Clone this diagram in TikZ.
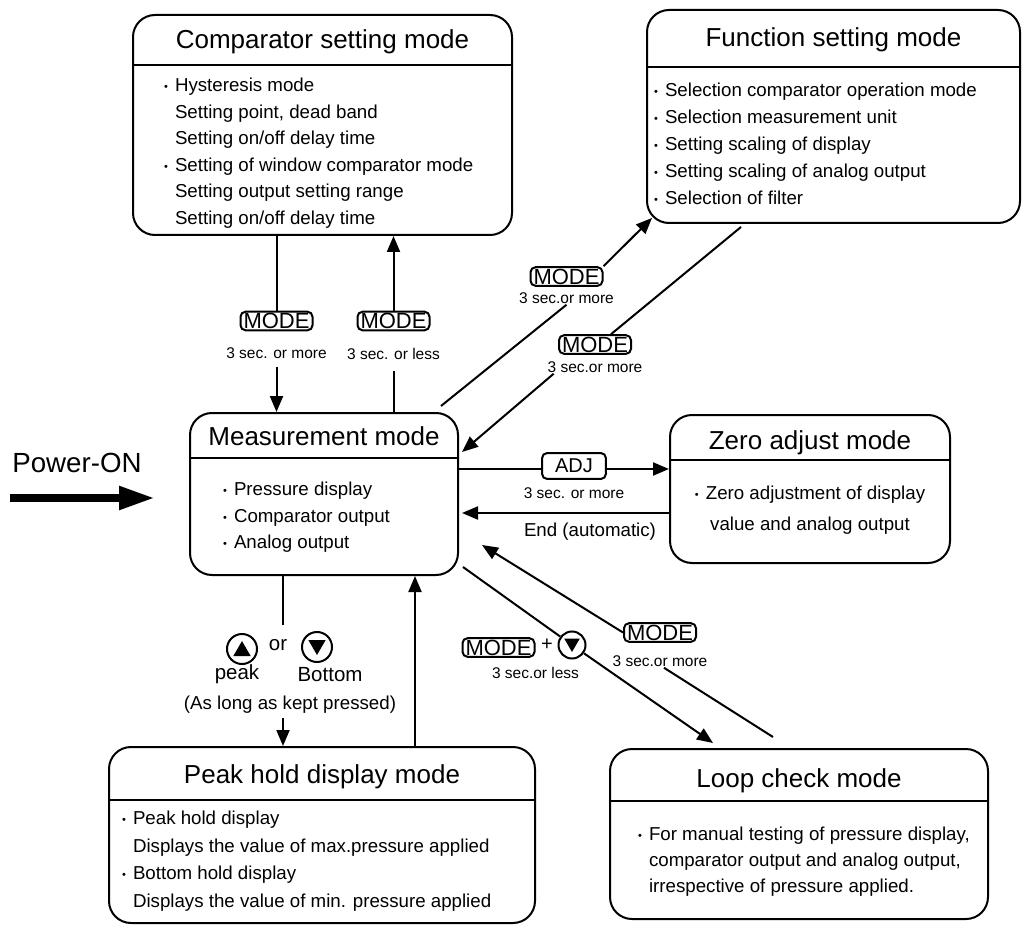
\documentclass[tikz,border=0pt]{standalone}
\usepackage{fontspec}
\setmainfont{Liberation Sans}
\usetikzlibrary{arrows.meta,positioning,calc,shapes.geometric}

\newcommand{\bul}{\makebox[11pt][l]{\raisebox{1pt}{\fontsize{11}{11}\selectfont •}}}
\newcommand{\ind}{\hspace*{11pt}}

\tikzset{
  modebox/.style = {draw, rounded corners=22pt, inner sep=0pt},
  modetitle/.style = {font=\fontsize{26}{30}\selectfont, inner sep=0pt, anchor=base},
  modetext/.style = {font=\fontsize{18.7}{26.6}\selectfont, align=left, inner sep=0pt, anchor=north west},
  sepline/.style = {line width=1.5pt},
  keybox/.style = {draw, rounded corners=5pt, inner xsep=3pt, inner ysep=1.5pt, font=\fontsize{22}{24}\selectfont},
  adjbox/.style = {keybox, inner xsep=13pt, inner ysep=6pt, font=\fontsize{20}{24}\selectfont},
  note/.style = {font=\fontsize{15.5}{18}\selectfont, inner sep=0pt},
  keycirc/.style = {draw, circle, minimum size=28pt, inner sep=0pt},
  tri/.style = {fill, regular polygon, regular polygon sides=3, minimum size=20pt, inner sep=0pt},
  arr/.style = {-{Triangle[length=16pt,width=13pt]}},
}

\begin{document}
\begin{tikzpicture}[x=1pt, y=-1pt, line width=2pt]
\useasboundingbox (0,0) rectangle (1023,925);

% the mode boxes
\node[modebox, minimum width=379pt, minimum height=220pt] (cmp) at (322.5,125) {};
\node[modetitle] (cmp-t) at (322.5,49) {Comparator setting mode};
\draw[sepline] (cmp.west |- 0,65) -- (cmp.east |- 0,65);
\node[modetext] (cmp-b) at (163,77)
  {\bul Hysteresis mode\\ \ind Setting point, dead band\\ \ind Setting on/off delay time\\
   \bul Setting of window comparator mode\\ \ind Setting output setting range\\ \ind Setting on/off delay time};

\node[modebox, minimum width=373pt, minimum height=213pt] (fun) at (833.5,116.5) {};
\node[modetitle] (fun-t) at (833.5,47) {Function setting mode};
\draw[sepline] (fun.west |- 0,67) -- (fun.east |- 0,67);
\node[modetext, font=\fontsize{18.7}{27}\selectfont] (fun-b) at (653,82)
  {\bul Selection comparator operation mode\\ \bul Selection measurement unit\\ \bul Setting scaling of display\\
   \bul Setting scaling of analog output\\ \bul Selection of filter};

\node[modebox, minimum width=268pt, minimum height=162pt] (meas) at (324,494) {};
\node[modetitle] (meas-t) at (324,445) {Measurement mode};
\draw[sepline] (meas.west |- 0,458) -- (meas.east |- 0,458);
\node[modetext, font=\fontsize{18.7}{26.5}\selectfont] (meas-b) at (222,481)
  {\bul Pressure display\\ \bul Comparator output\\ \bul Analog output};

\node[modebox, minimum width=280pt, minimum height=148pt] (zero) at (810,489) {};
\node[modetitle] (zero-t) at (810,449) {Zero adjust mode};
\draw[sepline] (zero.west |- 0,460) -- (zero.east |- 0,460);
\node[modetext, align=center, anchor=north, font=\fontsize{18.7}{31}\selectfont] (zero-b) at (810,485)
  {\bul Zero adjustment of display\\ value and analog output};

\node[modebox, minimum width=426pt, minimum height=176pt] (peak) at (322,835) {};
\node[modetitle] (peak-t) at (322,783) {Peak hold display mode};
\draw[sepline] (peak.west |- 0,800) -- (peak.east |- 0,800);
\node[modetext, font=\fontsize{18.7}{27.7}\selectfont] (peak-b) at (121,810)
  {\bul Peak hold display\\ \ind Displays the value of max.pressure applied\\
   \bul Bottom hold display\\ \ind Displays the value of min. pressure applied};

\node[modebox, minimum width=378pt, minimum height=170pt] (loop) at (799,834) {};
\node[modetitle] (loop-t) at (799,787) {Loop check mode};
\draw[sepline] (loop.west |- 0,801) -- (loop.east |- 0,801);
\node[modetext, font=\fontsize{18.7}{26}\selectfont] (loop-b) at (637,826)
  {\bul For manual testing of pressure display,\\ \ind comparator output and analog output,\\
   \ind irrespective of pressure applied.};

% power on
\node[font=\fontsize{27.7}{32}\selectfont, inner sep=0pt] (pwr) at (77,463) {Power-ON};
\coordinate (pwr-a) at (10,498);
\coordinate (pwr-b) at (155,498);
\draw[line width=8pt, -{Triangle[length=36pt,width=22pt]}] (pwr-a) -- (pwr-b);

% comparator <-> measurement
\node[keybox] (k1) at (276.5,321) {MODE};
\node[note, below=15pt of k1] (n1) {3 sec. or more};
\draw (cmp.south -| k1) -- (k1.north);
\draw[arr, shorten <=8pt] (n1.south -| k1) -- (meas.north -| k1);

\node[keybox] (k2) at (393.5,321) {MODE};
\node[note, below=16pt of k2] (n2) {3 sec. or less};
\draw[shorten >=10pt] (meas.north -| k2) -- (n2.south -| k2);
\draw[arr] (k2.north) -- (cmp.south -| k2);

% measurement <-> function
\coordinate (m-ne) at (441,406);
\coordinate (f-sw) at (652,218);
\node[keybox] (k3) at (566.5,276.5) {MODE};
\node[note, below=5pt of k3] (n3) {3 sec.or more};
\draw (m-ne) -- (n3.south);
\draw[arr] (k3.north east) -- (f-sw);

\coordinate (f-s) at (741,227);
\coordinate (m-e1) at (462,452);
\node[keybox] (k4) at (595,344.5) {MODE};
\node[note, below=6pt of k4] (n4) {3 sec.or more};
\draw (f-s) -- ([xshift=16pt]k4.north);
\draw[arr] ([xshift=7pt]n4.south west) -- (m-e1);

% measurement <-> zero adjust
\node[adjbox] (k5) at (574,466) {ADJ};
\node[note, below=7pt of k5] (n5) {3 sec. or more};
\draw (meas.east |- 0,469) -- (k5.west |- 0,469);
\draw[arr] (k5.east |- 0,469) -- (zero.west |- 0,469);

\coordinate (ret) at (560,513);
\node[font=\fontsize{18.7}{22}\selectfont, inner sep=0pt] (n6) at (590,532) {End (automatic)};
\draw[arr] (zero.west |- ret) -- ([xshift=3pt]meas.east |- ret);

% measurement <-> loop check
\coordinate (m-se) at (463,567);
\coordinate (l-nw) at (713,743);
\node[keybox] (k7) at (498.5,647.5) {MODE};
\node[font=\fontsize{20}{24}\selectfont, inner sep=0pt] (plus) at (547,645) {+};
\node[keycirc, minimum size=27pt] (c7) at (572,645) {};
\node[tri, minimum size=18pt, shape border rotate=180] (c7-t) at (572,643) {};
\node[note, below=8pt of k7.south east] (n7) {3 sec.or less};
\draw (m-se) -- (c7);
\draw[arr] (c7) -- (l-nw);

\coordinate (l-top) at (773,737);
\coordinate (m-e2) at (482,545);
\node[keybox] (k8) at (660,632.5) {MODE};
\node[note, below=12pt of k8] (n8) {3 sec.or more};
\draw (l-top) -- ([xshift=4pt]n8.south);
\draw[arr] (k8.west) -- (m-e2);

% measurement <-> peak hold
\coordinate (dn) at (283,625);
\coordinate (up) at (415,660);
\node[keycirc, minimum size=30pt] (c9a) at (242,649) {};
\node[tri] (c9a-t) at (242,651) {};
\node[font=\fontsize{20.5}{24}\selectfont, inner sep=0pt] (or) at (278,645) {or};
\node[keycirc, minimum size=30pt] (c9b) at (317,647) {};
\node[tri, shape border rotate=180] (c9b-t) at (317,645) {};
\node[font=\fontsize{20.5}{24}\selectfont, inner sep=0pt] (pk) at (237,674) {peak};
\node[font=\fontsize{20.5}{24}\selectfont, inner sep=0pt] (bt) at (330,675) {Bottom};
\node[font=\fontsize{18.7}{22}\selectfont, inner sep=0pt] (n9) at (290,705) {(As long as kept pressed)};
\draw (meas.south -| dn) -- (dn);
\draw[arr, shorten <=3pt] (n9.south -| dn) -- (peak.north -| dn);
\draw[arr] (peak.north -| up) -- (meas.south -| up);

\end{tikzpicture}
\end{document}
